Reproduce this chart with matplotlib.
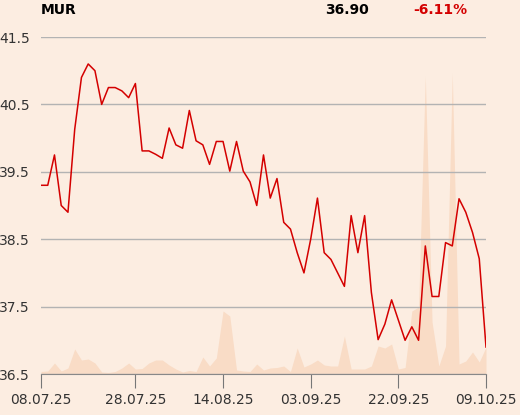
import numpy as np
import pandas as pd
import matplotlib
matplotlib.use("Agg")
import matplotlib.pyplot as plt

# trading days (US market, Labor Day closed)
dates = pd.bdate_range("2025-07-08", "2025-10-09")
dates = dates[dates != pd.Timestamp("2025-09-01")]

price = [39.30, 39.30, 39.75, 39.00, 38.90, 40.13, 40.90, 41.10, 41.00, 40.50,
         40.75, 40.75, 40.70, 40.60, 40.81, 39.81, 39.81, 39.76, 39.70, 40.15,
         39.90, 39.85, 40.41, 39.96, 39.90, 39.61, 39.95, 39.95, 39.51, 39.95,
         39.51, 39.35, 39.00, 39.75, 39.11, 39.40, 38.75, 38.65, 38.30, 38.00,
         38.50, 39.11, 38.30, 38.20, 38.00, 37.80, 38.85, 38.30, 38.85, 37.71,
         37.01, 37.24, 37.60, 37.30, 37.00, 37.20, 37.00, 38.40, 37.65, 37.65,
         38.45, 38.40, 39.10, 38.90, 38.60, 38.21, 36.90]

volume = [2.5, 3, 11, 3, 6, 25, 14, 15, 11, 2,
          1.5, 2.5, 6, 11, 5, 5.5, 11, 14, 14, 9,
          5, 2, 3.5, 2.5, 17, 8, 16, 63, 58, 4,
          3, 2.5, 10, 4, 6, 6.5, 8, 2.5, 26, 7,
          10, 14, 9, 8, 8, 38, 5, 5, 5, 8,
          28, 26, 30, 5, 6.5, 63, 67, 298, 52, 8,
          28, 301, 10, 13, 22, 12, 27]

tick_idx = [0, 14, 27, 40, 53, 66]
y_ticks = [36.5, 37.5, 38.5, 39.5, 40.5, 41.5]

bg = "#fcede1"
x = np.arange(len(price))

fig = plt.figure(figsize=(5.2, 4.15), dpi=100, facecolor=bg)
ax = fig.add_axes([41 / 520, 41 / 415, 445 / 520, 337 / 415])
ax.set_facecolor(bg)

# volume on a hidden twin axis
axv = ax.twinx()
axv.fill_between(x, volume, 0, color="#f9dcc6", lw=0)
axv.set_ylim(0, 337)
axv.axis("off")
ax.set_zorder(axv.get_zorder() + 1)
ax.patch.set_visible(False)

ax.plot(x, price, color="#d40000", lw=1.1)
ax.set_xlim(0, len(price) - 1)
ax.set_ylim(36.5, 41.5)
ax.set_yticks(y_ticks)
ax.set_yticklabels([f"{v:.1f}" for v in y_ticks])
ax.grid(axis="y", color="#b3b3b3", lw=1)
ax.set_xticks(tick_idx)
ax.set_xticklabels([dates[i].strftime("%d.%m.%y") for i in tick_idx])

for s in ["top", "right", "left"]:
    ax.spines[s].set_visible(False)
ax.spines["bottom"].set_color("#888888")
ax.tick_params(axis="y", length=0, pad=8, labelsize=10, labelcolor="#333333")
ax.tick_params(axis="x", length=10, color="#777777", pad=4, labelsize=10,
               labelcolor="#333333")

fig.text(41 / 520, 1 - 10 / 415, "MUR", fontsize=10, fontweight="bold",
         va="center", ha="left")
fig.text(369 / 520, 1 - 10 / 415, f"{price[-1]:.2f}", fontsize=10,
         fontweight="bold", va="center", ha="right")
fig.text(467 / 520, 1 - 10 / 415, "-6.11%", fontsize=10, fontweight="bold",
         color="#d40000", va="center", ha="right")

fig.savefig("out.png", dpi=100, facecolor=bg)
